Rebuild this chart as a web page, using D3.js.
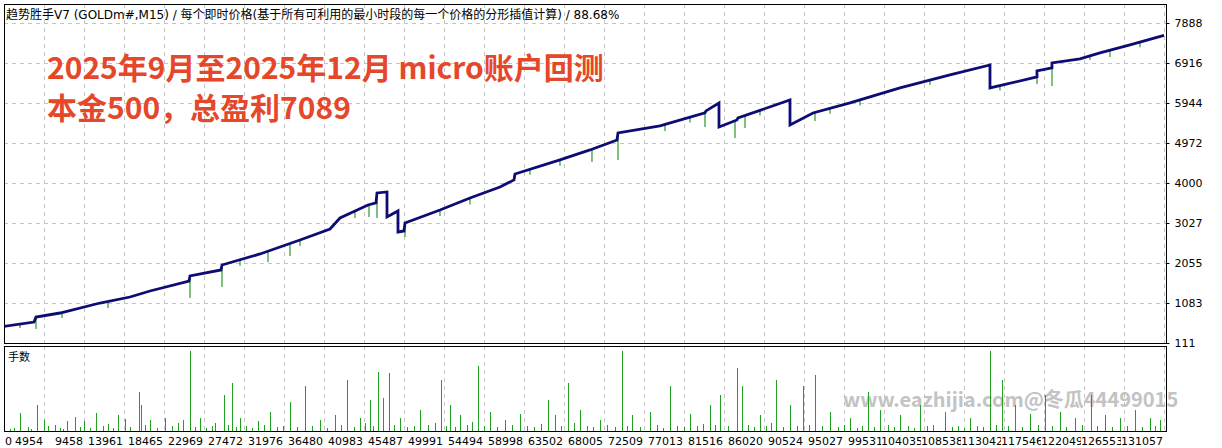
<!DOCTYPE html>
<html>
<head>
<meta charset="utf-8">
<script src="https://cdn.jsdelivr.net/npm/d3@7"></script>
<style>
    body { margin: 0; background: #fff; }
    svg { display: block; font-family: "DejaVu Sans", "Noto Sans CJK SC", sans-serif; }
</style>
</head>
<body>
<svg width="1222" height="448"></svg>
<script>
// tick labels
let xTicks = [0, 4954, 9458, 13961, 18465, 22969, 27472, 31976, 36480, 40983, 45487, 49991, 54494, 58998, 63502,
    68005, 72509, 77013, 81516, 86020, 90524, 95027, 99531, 104035, 108538, 113042, 117546, 122049, 126553, 131057];
let yTicks = [111, 1083, 2055, 3027, 4000, 4972, 5944, 6916, 7888];

// balance curve (trade no. / balance)
let balTrade = [0, 3828, 4053, 6755, 11259, 14637, 16889, 21280, 21392, 24882, 24995, 29273, 33777, 37155, 38281,
    41433, 42334, 42446, 43572, 43572, 44811, 44811, 45486, 45599, 49540, 52917, 56295, 57871, 57984, 63050, 66428,
    69468, 69581, 74309, 79376, 79488, 80952, 80952, 82978, 83091, 88946, 88946, 91536, 95702, 101331, 106961,
    111464, 111464, 116756, 116756, 118445, 118445, 121597, 123849, 127227, 131057];
let balValue = [500, 621, 743, 840, 1083, 1229, 1375, 1618, 1740, 1886, 2007, 2275, 2615, 2882, 3150,
    3466, 3514, 3758, 3782, 3174, 3320, 2809, 2834, 3028, 3344, 3636, 3903, 4074, 4219, 4560, 4803,
    5046, 5216, 5386, 5702, 5751, 5945, 5362, 5532, 5581, 6018, 5411, 5702, 5945, 6310, 6626,
    6869, 6310, 6577, 6723, 6796, 6918, 7015, 7161, 7355, 7589];

// equity dips (trade no. / lowest equity)
let eqTrade = [2252, 4053, 6981, 12160, 21392, 24995, 27022, 30174, 32651, 33777, 39970, 41546, 42446, 45599,
    49540, 52917, 59673, 63050, 66653, 69581, 74872, 77687, 79376, 82754, 83880, 85568, 91761, 93450, 96827,
    104708, 112590, 116756, 118445, 122723, 124975, 128353];
let eqLow = [476, 451, 719, 960, 1205, 1472, 1990, 2080, 2226, 2470, 3150, 3174, 3150, 2688,
    3198, 3480, 4200, 4420, 4511, 4560, 5265, 5470, 5362, 5095, 5338, 5640, 5508, 5680, 5880,
    6380, 6250, 6407, 6358, 6991, 7060, 7300];

// lots per trade
let lotTrade = [2252, 4166, 4954, 6192, 7544, 8444, 9458, 10809, 12160, 13286, 14074, 15650, 15875, 16889, 18577,
    20604, 21392, 22518, 24207, 25220, 26121, 27022, 29048, 30399, 32651, 34340, 36029, 37718, 39069, 40532, 41658,
    42559, 43122, 43797, 45036, 47288, 49652, 50666, 51791, 53818, 55169, 56858, 58547, 61699, 62487, 63951, 65302,
    67554, 70031, 71157, 73184, 75435, 77687, 79939, 81065, 82979, 83542, 85568, 87370, 88946, 90410, 91761, 93450,
    95702, 97728, 99079, 101331, 103583, 106398, 109212, 111464, 112815, 114279, 115968, 117657, 119345, 121034,
    122836, 124412, 126101, 127790, 129479, 130605,
    1126, 1576, 3153, 3490, 5404, 6755, 7093, 9007, 10133, 11597, 12723, 14637, 16326, 17677, 19365, 20041,
    21955, 23194, 23869, 25671, 26571, 27697, 28373, 29724, 31187, 31863, 33439, 35128, 36817, 38393, 39857,
    41095, 41996, 44360, 45824, 46612, 48189, 48977, 50215, 51228, 52580, 53143, 54494, 55957, 57646, 59335,
    60123, 60911, 63163, 64627, 66090, 66766, 68342, 69243, 70594, 72058, 73972, 74647, 76223, 77012, 78475,
    79151, 80502, 81966, 84217, 84893, 86244, 86807, 88158, 89734, 91085, 92549, 94350, 95026, 96490, 97053,
    98404, 99980, 100655, 102232, 102907, 104371, 105046, 107186, 107861, 108537, 110000, 110676, 112140,
    113491, 115067, 116868, 118445, 120021, 121822, 123511, 125200, 126889, 128578, 130041];
let lotSize = [0.18, 0.26, 0.11, 0.06, 0.10, 0.14, 0.10, 0.18, 0.07, 0.16, 0.12, 0.39, 0.26, 0.11, 0.13,
    0.11, 0.80, 0.13, 0.08, 0.36, 0.48, 0.13, 0.10, 0.19, 0.29, 0.45, 0.11, 0.16, 0.51, 0.13, 0.31,
    0.59, 0.33, 0.58, 0.13, 0.21, 0.51, 0.26, 0.16, 0.65, 0.19, 0.11, 0.17, 0.31, 0.16, 0.48, 0.21,
    0.11, 0.80, 0.16, 0.19, 0.45, 0.17, 0.26, 0.36, 0.63, 0.45, 0.16, 0.51, 0.26, 0.45, 0.56, 0.19,
    0.13, 0.39, 0.21, 0.16, 0.26, 0.19, 0.13, 0.80, 0.51, 0.26, 0.17, 0.36, 0.19, 0.13,
    0.36, 0.16, 0.13, 0.21, 0.13, 0.11,
    0.02, 0.03, 0.04, 0.02, 0.05, 0.03, 0.02, 0.04, 0.03, 0.05, 0.03, 0.04, 0.06, 0.03, 0.05, 0.08,
    0.04, 0.03, 0.05, 0.06, 0.04, 0.05, 0.03, 0.06, 0.04, 0.05, 0.04, 0.05, 0.03, 0.06, 0.04,
    0.08, 0.05, 0.06, 0.04, 0.05, 0.06, 0.08, 0.05, 0.04, 0.06, 0.09, 0.05, 0.04, 0.06, 0.05,
    0.04, 0.07, 0.05, 0.08, 0.05, 0.04, 0.06, 0.04, 0.05, 0.04, 0.06, 0.03, 0.05, 0.04, 0.05,
    0.07, 0.06, 0.05, 0.06, 0.04, 0.05, 0.08, 0.04, 0.05, 0.06, 0.05, 0.04, 0.06, 0.03, 0.05,
    0.04, 0.06, 0.04, 0.05, 0.03, 0.05, 0.06, 0.04, 0.05, 0.03, 0.05, 0.04, 0.06,
    0.05, 0.04, 0.06, 0.05, 0.04, 0.06, 0.05, 0.04, 0.05, 0.04, 0.05];

let svg = d3.select("svg"),
    main = { left: 4, right: 1166, top: 4, bottom: 343 },
    sub = { top: 346, bottom: 431 };

let x = d3.scaleLinear().domain([0, 131057]).range([0, 1164]);
let y = d3.scaleLinear().domain([111, 7888]).range([343, 23]);
let yLot = d3.scaleLinear().domain([0, 0.8]).range([431, 351]);

let defs = svg.append("defs");
defs.append("clipPath").attr("id", "clipMain").append("rect")
    .attr("x", main.left).attr("y", main.top)
    .attr("width", main.right - main.left).attr("height", main.bottom - main.top);
defs.append("clipPath").attr("id", "clipSub").append("rect")
    .attr("x", main.left).attr("y", sub.top)
    .attr("width", main.right - main.left).attr("height", sub.bottom - sub.top);

// grid
let grid = svg.append("g")
    .attr("stroke", "#c4c4c4")
    .attr("stroke-dasharray", "4,4")
    .attr("shape-rendering", "crispEdges");
grid.selectAll(".hg").data(yTicks.slice(1)).join("line")
    .attr("x1", main.left).attr("x2", main.right)
    .attr("y1", d => Math.round(y(d)) + 0.5).attr("y2", d => Math.round(y(d)) + 0.5);
grid.selectAll(".vg").data(xTicks.slice(1)).join("line")
    .attr("x1", d => Math.round(x(d)) + 0.5).attr("x2", d => Math.round(x(d)) + 0.5)
    .attr("y1", main.top).attr("y2", main.bottom);
grid.selectAll(".vg2").data(xTicks.slice(1)).join("line")
    .attr("x1", d => Math.round(x(d)) + 0.5).attr("x2", d => Math.round(x(d)) + 0.5)
    .attr("y1", sub.top).attr("y2", sub.bottom);

// watermark
svg.append("text")
    .attr("x", 843).attr("y", 407)
    .attr("font-size", 20).attr("font-weight", "bold")
    .attr("font-family", "'Noto Sans CJK SC', sans-serif")
    .attr("fill", "#c3c3c3")
    .text("www.eazhijia.com@冬瓜44499015");

// equity dips
let balAt = t => {
    let i = d3.bisectRight(balTrade, t) - 1;
    i = Math.max(0, Math.min(i, balTrade.length - 2));
    let t0 = balTrade[i], t1 = balTrade[i + 1];
    if (t1 === t0) return balValue[i + 1];
    return balValue[i] + (balValue[i + 1] - balValue[i]) * (t - t0) / (t1 - t0);
};
let gMain = svg.append("g").attr("clip-path", "url(#clipMain)");
gMain.selectAll(".eq").data(eqTrade).join("line")
    .attr("stroke", "#2d962d")
    .attr("stroke-width", 1.2)
    .attr("x1", d => x(d)).attr("x2", d => x(d))
    .attr("y1", d => y(balAt(d)))
    .attr("y2", (d, i) => y(eqLow[i]));

let line = d3.line()
    .x(d => x(d))
    .y((d, i) => y(balValue[i]));
gMain.append("path")
    .datum(balTrade)
    .attr("d", line)
    .attr("fill", "none")
    .attr("stroke", "#0c0c74")
    .attr("stroke-width", 2.8)
    .attr("stroke-linejoin", "miter");

// lots
let gSub = svg.append("g").attr("clip-path", "url(#clipSub)");
gSub.selectAll(".lot").data(lotTrade).join("line")
    .attr("stroke", "#22a022")
    .attr("stroke-width", 1)
    .attr("shape-rendering", "crispEdges")
    .attr("x1", d => Math.round(x(d)) + 0.5).attr("x2", d => Math.round(x(d)) + 0.5)
    .attr("y1", yLot(0))
    .attr("y2", (d, i) => yLot(lotSize[i]));

// frames
svg.append("rect")
    .attr("x", main.left + 0.5).attr("y", main.top + 0.5)
    .attr("width", main.right - main.left).attr("height", main.bottom - main.top)
    .attr("fill", "none").attr("stroke", "#000").attr("shape-rendering", "crispEdges");
svg.append("rect")
    .attr("x", main.left + 0.5).attr("y", sub.top + 0.5)
    .attr("width", main.right - main.left).attr("height", sub.bottom - sub.top)
    .attr("fill", "none").attr("stroke", "#000").attr("shape-rendering", "crispEdges");

// right axis
let yAxis = svg.append("g")
    .attr("transform", `translate(${main.right + 0.5},0)`)
    .call(d3.axisRight(y).tickValues(yTicks).tickSize(3).tickPadding(5).tickFormat(d => d));
yAxis.select(".domain").remove();
yAxis.selectAll("text").attr("font-size", 11).attr("font-family", "'DejaVu Sans', sans-serif").attr("fill", "#000");
yAxis.selectAll("line").attr("stroke", "#000");

// bottom labels, right aligned on grid lines, later ones cover earlier
let xLab = svg.append("g").attr("font-size", 11);
xTicks.forEach((d, i) => {
    let gx = i === 0 ? main.left + 1 : Math.round(x(d)) - 1;
    let t = xLab.append("text")
        .attr("x", gx).attr("y", 445)
        .attr("text-anchor", i === 0 ? "start" : "end")
        .text(d);
    let w = t.node().getComputedTextLength();
    xLab.insert("rect", () => t.node())
        .attr("x", i === 0 ? gx : gx - w).attr("y", 434)
        .attr("width", w).attr("height", 14)
        .attr("fill", "#fff");
});

// titles
svg.append("text")
    .attr("x", 6).attr("y", 19)
    .attr("font-size", 12)
    .text("趋势胜手V7 (GOLDm#,M15) / 每个即时价格(基于所有可利用的最小时段的每一个价格的分形插值计算) / 88.68%");
svg.append("text")
    .attr("x", 8).attr("y", 361)
    .attr("font-size", 11)
    .text("手数");

let red = svg.append("g")
    .attr("fill", "#e5472b")
    .attr("font-weight", "bold")
    .attr("font-family", "'Noto Sans CJK SC', sans-serif")
    .attr("font-size", 30);
red.append("text").attr("x", 47).attr("y", 79).text("2025年9月至2025年12月 micro账户回测");
red.append("text").attr("x", 47).attr("y", 119).text("本金500，总盈利7089");
</script>
</body>
</html>
